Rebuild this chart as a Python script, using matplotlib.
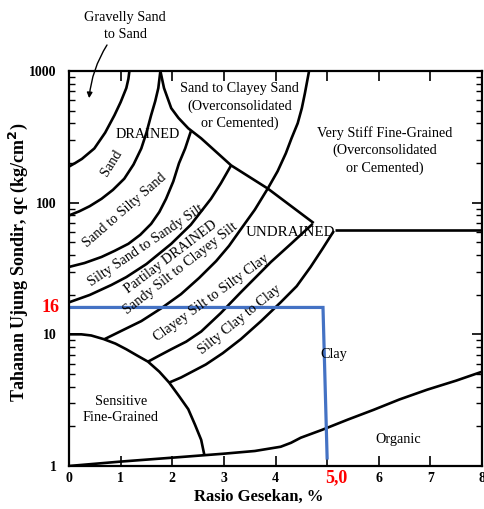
import matplotlib
matplotlib.use("Agg")
import matplotlib.pyplot as plt
from matplotlib.ticker import FixedLocator, NullFormatter

plt.rcParams['font.family'] = ['Liberation Serif', 'DejaVu Serif']

# boundaries (x = friction ratio %, y = qc kg/cm2)
gravel_x = [0, 0.12, 0.25, 0.49, 0.7, 0.88, 1.0, 1.11, 1.15, 1.17]
gravel_y = [188, 200, 215, 258, 340, 461, 580, 742, 870, 1000]

sand_x = [0, 0.2, 0.4, 0.63, 0.85, 1.07, 1.25, 1.40, 1.50, 1.59, 1.67, 1.73, 1.77]
sand_y = [80, 86, 94, 107, 125, 152, 195, 258, 340, 461, 590, 742, 1000]

silty_sand_x = [0, 0.30, 0.63, 0.88, 1.15, 1.38, 1.59, 1.75, 1.88, 2.02, 2.13, 2.25, 2.36]
silty_sand_y = [32.5, 34.8, 38.7, 43, 48.7, 57, 69, 85, 107, 145, 199, 258, 348]

sandy_silt_x = [0, 0.40, 0.82, 1.11, 1.50, 1.98, 2.36, 2.75, 2.94, 3.14]
sandy_silt_y = [17.5, 19.9, 23.7, 27.2, 34.2, 48.7, 68, 107, 140, 192]

clayey_silt_x = [0.69, 1.03, 1.40, 1.79, 2.17, 2.52, 2.85, 3.10, 3.33, 3.60, 3.85,
                 4.04, 4.20, 4.31, 4.43, 4.51, 4.57, 4.65]
clayey_silt_y = [9.2, 10.7, 12.6, 15.8, 20.2, 26.8, 36, 47, 63, 88.5, 128,
                 173, 237, 308, 401, 522, 679, 1000]

silty_clay_x = [1.53, 1.75, 1.98, 2.27, 2.56, 2.94, 3.33, 3.62, 3.91, 4.30, 4.51, 4.72]
silty_clay_y = [6.2, 6.9, 7.7, 8.8, 10.5, 14.5, 20.9, 27.2, 35.4, 48.7, 58, 69]

clay_x = [1.94, 2.17, 2.65, 2.98, 3.33, 3.72, 4.10, 4.41, 4.68, 4.91, 5.13]
clay_y = [4.3, 4.7, 5.9, 7.2, 9.2, 12.6, 17.5, 23.2, 32.5, 44.6, 61]

sensitive_x = [0, 0.24, 0.43, 0.67, 0.90, 1.11, 1.32, 1.53, 1.75, 1.94, 2.13, 2.31,
               2.44, 2.56, 2.62]
sensitive_y = [10, 10, 9.8, 9.2, 8.5, 7.7, 6.9, 6.2, 5.2, 4.3, 3.4, 2.7,
               2.06, 1.58, 1.22]

organic_x = [0, 1.0, 2.17, 3.0, 3.6, 4.1, 4.3, 4.49, 4.9, 5.4, 5.9, 6.4, 6.94, 7.5, 8.0]
organic_y = [1.0, 1.08, 1.17, 1.24, 1.30, 1.40, 1.5, 1.64, 1.88, 2.25, 2.67, 3.2, 3.8,
             4.45, 5.2]

diag_x = [1.77, 1.84, 1.98, 2.12, 2.31, 2.56, 3.14, 3.85, 4.74]
diag_y = [1000, 742, 522, 440, 367, 308, 192, 128, 70]

stiff_x = [5.16, 8]
stiff_y = [62, 62]

# blue reading line
read_x = [0, 4.92, 5.0]
read_y = [16, 16, 1.15]

x_ticks = [0, 1, 2, 3, 4, 5, 6, 7, 8]
x_labels = ['0', '1', '2', '3', '4', '', '6', '7', '8']
y_ticks = [1, 10, 100, 1000]

fig = plt.figure(figsize=(4.85, 5.09), dpi=100)
ax = fig.add_axes([0.1423, 0.0845, 0.8515, 0.776])
ax.set_xlim(0, 8)
ax.set_yscale('log')
ax.set_ylim(1, 1000)

lw = 1.9
for xs, ys in [(gravel_x, gravel_y), (sand_x, sand_y), (silty_sand_x, silty_sand_y),
               (sandy_silt_x, sandy_silt_y), (clayey_silt_x, clayey_silt_y),
               (silty_clay_x, silty_clay_y), (clay_x, clay_y),
               (sensitive_x, sensitive_y), (organic_x, organic_y),
               (diag_x, diag_y), (stiff_x, stiff_y)]:
    ax.plot(xs, ys, color='black', lw=lw, solid_capstyle='butt', solid_joinstyle='round')

ax.plot(read_x, read_y, color='#4472C4', lw=2.3, solid_joinstyle='miter')

for s in ax.spines.values():
    s.set_linewidth(1.6)

ax.xaxis.set_major_locator(FixedLocator(x_ticks))
ax.set_xticklabels(x_labels)
ax.yaxis.set_major_locator(FixedLocator(y_ticks))
ax.set_yticklabels([str(v) for v in y_ticks])
ax.yaxis.set_minor_formatter(NullFormatter())
ax.tick_params(which='both', direction='in', top=True, right=True, labelsize=10)
ax.tick_params(which='major', length=7, width=1.2)
ax.tick_params(which='minor', length=4, width=1.0)
ax.tick_params(axis='x', which='major', pad=4)
ax.tick_params(axis='y', which='major', pad=9)
for t in ax.get_xticklabels() + ax.get_yticklabels():
    t.set_fontweight('bold')

ax.set_xlabel('Rasio Gesekan, %', fontsize=12, fontweight='bold')
ax.xaxis.set_label_coords(0.46, -0.057)
ax.set_ylabel('Tahanan Ujung Sondir, qc (kg/cm$^\\mathbf{2}$)', fontsize=13,
              fontweight='bold')
ax.yaxis.set_label_coords(-0.095, 0.516)

fs = 10.3
ax.text(1.52, 330, 'DRAINED', fontsize=fs, ha='center', va='center')
ax.text(0.82, 199, 'Sand', fontsize=fs, ha='center', va='center', rotation=58)
ax.text(1.08, 88, 'Sand to Silty Sand', fontsize=fs, ha='center', va='center', rotation=41)
ax.text(1.48, 47, 'Silty Sand to Sandy Silt', fontsize=fs, ha='center', va='center', rotation=34)
ax.text(1.98, 38.7, 'Partilay DRAINED', fontsize=fs, ha='center', va='center', rotation=37)
ax.text(2.15, 31.3, 'Sandy Silt to Clayey Silt', fontsize=fs, ha='center', va='center', rotation=38)
ax.text(2.75, 19, 'Clayey Silt to Silty Clay', fontsize=fs, ha='center', va='center', rotation=36)
ax.text(3.30, 12.8, 'Silty Clay to Clay', fontsize=fs, ha='center', va='center', rotation=39)
ax.text(4.28, 59, 'UNDRAINED', fontsize=10.8, ha='center', va='center')
ax.text(5.12, 7.0, 'Clay', fontsize=fs, ha='center', va='center')
ax.text(6.38, 1.58, 'Organic', fontsize=fs, ha='center', va='center')
ax.text(1.0, 2.68, 'Sensitive\nFine-Grained', fontsize=fs, ha='center', va='center',
        linespacing=1.35)
ax.text(3.31, 540, 'Sand to Clayey Sand\n(Overconsolidated\nor Cemented)', fontsize=fs,
        ha='center', va='center', linespacing=1.4)
ax.text(6.11, 250, 'Very Stiff Fine-Grained\n(Overconsolidated\nor Cemented)', fontsize=fs,
        ha='center', va='center', linespacing=1.4)

fig.text(0.258, 0.949, 'Gravelly Sand\nto Sand', fontsize=fs, ha='center', va='center',
         linespacing=1.35)
ax.annotate('', xy=(0.39, 622), xycoords='data',
            xytext=(0.2206, 0.9116), textcoords='figure fraction',
            arrowprops=dict(arrowstyle='-|>', color='black', lw=1.0,
                            mutation_scale=8, connectionstyle='arc3,rad=0.12',
                            shrinkA=0, shrinkB=0))

ax.text(-0.044, 16, '16', color='red', fontsize=13, fontweight='bold',
        ha='center', va='center', transform=ax.get_yaxis_transform())
ax.text(5.17, -0.03, '5,0', color='red', fontsize=13, fontweight='bold',
        ha='center', va='center', transform=ax.get_xaxis_transform())

fig.savefig('out.png', dpi=100)
